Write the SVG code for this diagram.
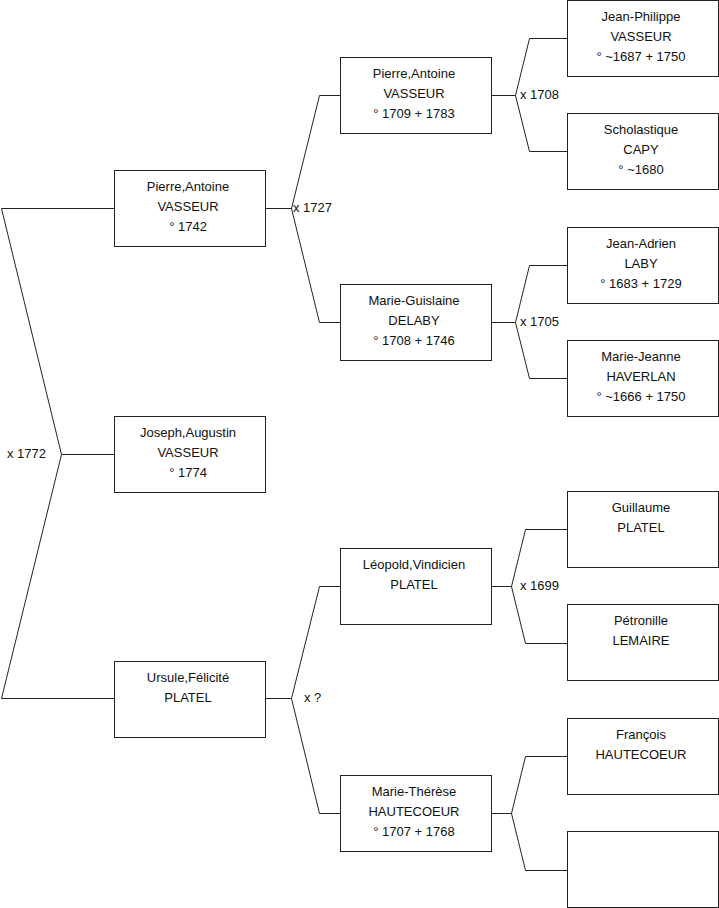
<svg xmlns="http://www.w3.org/2000/svg" width="719" height="908" viewBox="0 0 719 908">
<style>
.box{fill:#fff;stroke:#222;stroke-width:1}
.ln{fill:none;stroke:#222;stroke-width:1}
text{font-family:"Liberation Sans",Arial,sans-serif;font-size:13px;fill:#111}
.c{text-anchor:middle}
</style>
<rect width="719" height="908" fill="#fff"/>
<g id="connectors">
<path class="ln" d="M114 208.5H1.5L61.5 454.5L1.5 698.5H114M61.5 454.5H114"/>
<path class="ln" d="M265 208.5H291.5L319.5 95.5H341M291.5 208.5L319.5 322.5H341"/>
<path class="ln" d="M265 698.5H291.5L319.5 586.5H341M291.5 698.5L319.5 813.5H341"/>
<path class="ln" d="M491 95.5H515.5L529.5 38.5H567M515.5 95.5L529.5 151.5H567"/>
<path class="ln" d="M491 322.5H515.5L529.5 265.5H567M515.5 322.5L529.5 378.5H567"/>
<path class="ln" d="M491 586.5H511.5L525.5 529.5H567M511.5 586.5L525.5 643.5H567"/>
<path class="ln" d="M491 813.5H511.5L525.5 756.5H567M511.5 813.5L525.5 870.5H567"/>
<text x="7" y="458">x 1772</text>
<text x="293" y="212">x 1727</text>
<text x="304" y="702">x ?</text>
<text x="520" y="99">x 1708</text>
<text x="520" y="326">x 1705</text>
<text x="520" y="590">x 1699</text>
</g>
<g id="n_pierre1"><rect class="box" x="114.5" y="170.5" width="151" height="76"/><text class="c" x="188" y="191">Pierre,Antoine</text><text class="c" x="188" y="211">VASSEUR</text><text class="c" x="188" y="231">° 1742</text></g>
<g id="n_joseph"><rect class="box" x="114.5" y="416.5" width="151" height="76"/><text class="c" x="188" y="437">Joseph,Augustin</text><text class="c" x="188" y="457">VASSEUR</text><text class="c" x="188" y="477">° 1774</text></g>
<g id="n_ursule"><rect class="box" x="114.5" y="661.5" width="151" height="76"/><text class="c" x="188" y="682">Ursule,Félicité</text><text class="c" x="188" y="702">PLATEL</text></g>
<g id="n_pierre2"><rect class="box" x="340.5" y="57.5" width="151" height="76"/><text class="c" x="414" y="78">Pierre,Antoine</text><text class="c" x="414" y="98">VASSEUR</text><text class="c" x="414" y="118">° 1709 + 1783</text></g>
<g id="n_marieguislaine"><rect class="box" x="340.5" y="284.5" width="151" height="76"/><text class="c" x="414" y="305">Marie-Guislaine</text><text class="c" x="414" y="325">DELABY</text><text class="c" x="414" y="345">° 1708 + 1746</text></g>
<g id="n_leopold"><rect class="box" x="340.5" y="548.5" width="151" height="76"/><text class="c" x="414" y="569">Léopold,Vindicien</text><text class="c" x="414" y="589">PLATEL</text></g>
<g id="n_marietherese"><rect class="box" x="340.5" y="775.5" width="151" height="76"/><text class="c" x="414" y="796">Marie-Thérèse</text><text class="c" x="414" y="816">HAUTECOEUR</text><text class="c" x="414" y="836">° 1707 + 1768</text></g>
<g id="n_jeanphilippe"><rect class="box" x="567.5" y="0.5" width="151" height="76"/><text class="c" x="641" y="21">Jean-Philippe</text><text class="c" x="641" y="41">VASSEUR</text><text class="c" x="641" y="61">° ~1687 + 1750</text></g>
<g id="n_scholastique"><rect class="box" x="567.5" y="113.5" width="151" height="76"/><text class="c" x="641" y="134">Scholastique</text><text class="c" x="641" y="154">CAPY</text><text class="c" x="641" y="174">° ~1680</text></g>
<g id="n_jeanadrien"><rect class="box" x="567.5" y="227.5" width="151" height="76"/><text class="c" x="641" y="248">Jean-Adrien</text><text class="c" x="641" y="268">LABY</text><text class="c" x="641" y="288">° 1683 + 1729</text></g>
<g id="n_mariejeanne"><rect class="box" x="567.5" y="340.5" width="151" height="76"/><text class="c" x="641" y="361">Marie-Jeanne</text><text class="c" x="641" y="381">HAVERLAN</text><text class="c" x="641" y="401">° ~1666 + 1750</text></g>
<g id="n_guillaume"><rect class="box" x="567.5" y="491.5" width="151" height="76"/><text class="c" x="641" y="512">Guillaume</text><text class="c" x="641" y="532">PLATEL</text></g>
<g id="n_petronille"><rect class="box" x="567.5" y="604.5" width="151" height="76"/><text class="c" x="641" y="625">Pétronille</text><text class="c" x="641" y="645">LEMAIRE</text></g>
<g id="n_francois"><rect class="box" x="567.5" y="718.5" width="151" height="76"/><text class="c" x="641" y="739">François</text><text class="c" x="641" y="759">HAUTECOEUR</text></g>
<g id="n_empty"><rect class="box" x="567.5" y="831.5" width="151" height="76"/></g>
</svg>
